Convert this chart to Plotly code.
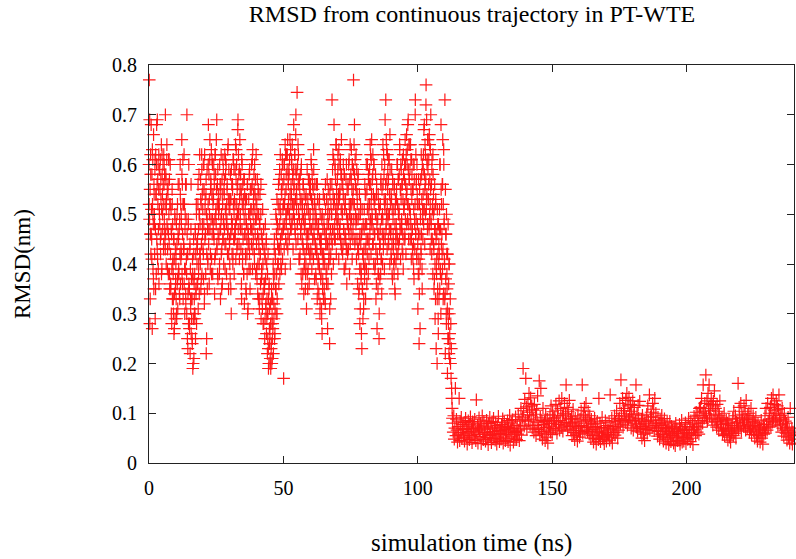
import numpy as np
import plotly.graph_objects as go

# ---------------------------------------------------------------
# RMSD, in picometres (1 pm = 0.001 nm).
# Phase 1 : frames from t = 0 ns every 0.1 ns (one row = 1 ns).
# Phase 1b: extra frames from t = 0.05 ns every 0.2 ns (row = 2 ns).
# Phase 2 : frames from t = 113 ns every 0.2 ns (one row = 2 ns).
# ---------------------------------------------------------------
PHASE1_START_NS = 0.0
PHASE1_STEP_NS = 0.1
PHASE1B_START_NS = 0.05
PHASE1B_STEP_NS = 0.2
PHASE2_START_NS = 113.0
PHASE2_STEP_NS = 0.2

rmsd_pm_phase1 = [
    600, 770, 490, 280, 550, 460, 620, 420, 680, 510,
    450, 580, 270, 520, 610, 390, 480, 660, 350, 540,
    500, 420, 590, 290, 470, 620, 540, 380, 600, 450,
    560, 690, 410, 520, 600, 470, 550, 360, 590, 500,
    480, 550, 610, 420, 570, 460, 640, 510, 390, 580,
    540, 470, 600, 520, 430, 620, 560, 490, 580, 450,
    520, 700, 460, 570, 400, 530, 610, 480, 550, 430,
    470, 560, 380, 610, 500, 440, 570, 350, 520, 600,
    420, 350, 510, 300, 460, 390, 550, 330, 480, 410,
    380, 300, 450, 260, 410, 340, 500, 290, 430, 370,
    400, 330, 480, 290, 440, 360, 520, 310, 460, 380,
    450, 380, 560, 340, 490, 420, 600, 360, 520, 430,
    500, 420, 650, 380, 560, 460, 610, 330, 520, 440,
    430, 360, 520, 300, 470, 390, 560, 320, 490, 410,
    380, 700, 460, 250, 420, 340, 490, 280, 600, 350,
    350, 280, 430, 220, 390, 310, 470, 260, 370, 330,
    330, 240, 410, 190, 370, 290, 450, 210, 360, 300,
    380, 300, 470, 250, 420, 340, 520, 280, 440, 360,
    430, 360, 520, 310, 470, 400, 580, 340, 500, 420,
    480, 400, 570, 350, 520, 440, 620, 380, 540, 460,
    510, 430, 600, 370, 480, 550, 320, 620, 450, 530,
    460, 380, 540, 220, 500, 420, 590, 350, 470, 400,
    520, 680, 440, 580, 360, 500, 610, 470, 390, 550,
    570, 490, 630, 410, 540, 460, 600, 380, 520, 480,
    530, 600, 450, 560, 340, 490, 620, 420, 580, 510,
    480, 550, 690, 430, 520, 380, 590, 460, 540, 500,
    450, 520, 380, 600, 470, 540, 330, 560, 490, 420,
    500, 430, 570, 360, 520, 610, 450, 490, 400, 550,
    540, 470, 620, 390, 510, 580, 440, 600, 480, 520,
    490, 560, 420, 630, 470, 530, 350, 590, 510, 450,
    440, 510, 370, 580, 460, 530, 300, 490, 560, 420,
    480, 550, 400, 610, 520, 450, 590, 380, 530, 470,
    520, 460, 640, 410, 570, 490, 600, 430, 550, 500,
    560, 690, 470, 620, 510, 440, 590, 530, 650, 480,
    500, 580, 430, 540, 360, 610, 470, 520, 400, 560,
    450, 530, 380, 570, 490, 320, 540, 460, 510, 420,
    410, 490, 340, 530, 450, 380, 560, 300, 470, 440,
    460, 530, 390, 580, 420, 500, 350, 550, 480, 510,
    510, 440, 600, 470, 560, 390, 630, 500, 450, 540,
    480, 550, 420, 600, 510, 460, 570, 380, 530, 490,
    440, 520, 370, 570, 460, 400, 540, 330, 500, 430,
    400, 480, 330, 540, 420, 360, 500, 290, 460, 390,
    380, 450, 310, 510, 400, 340, 470, 280, 430, 360,
    350, 420, 290, 480, 370, 310, 440, 260, 400, 330,
    300, 380, 250, 420, 230, 330, 200, 360, 270, 310,
    260, 210, 320, 190, 280, 240, 350, 200, 300, 250,
    330, 270, 400, 220, 360, 290, 430, 250, 380, 310,
    420, 350, 500, 300, 460, 380, 530, 330, 480, 400,
    470, 400, 560, 360, 510, 430, 590, 380, 520, 450,
    500, 430, 580, 390, 540, 460, 610, 410, 560, 480,
    520, 170, 570, 430, 600, 480, 540, 390, 620, 500,
    550, 480, 620, 440, 590, 510, 650, 460, 570, 530,
    510, 580, 450, 610, 490, 540, 400, 630, 520, 470,
    540, 600, 480, 640, 520, 570, 430, 590, 500, 550,
    560, 490, 620, 470, 590, 530, 660, 440, 580, 510,
    530, 745, 480, 600, 450, 560, 620, 500, 410, 570,
    490, 550, 420, 580, 460, 520, 380, 600, 480, 530,
    450, 520, 380, 560, 430, 490, 340, 540, 470, 400,
    420, 490, 350, 530, 400, 460, 310, 510, 440, 380,
    460, 530, 390, 570, 430, 500, 360, 550, 480, 410,
    500, 560, 430, 610, 470, 530, 390, 580, 520, 450,
    480, 550, 410, 590, 460, 520, 370, 560, 500, 430,
    440, 510, 370, 560, 420, 480, 330, 530, 460, 400,
    410, 480, 340, 520, 390, 450, 300, 500, 430, 370,
    380, 450, 310, 490, 260, 420, 350, 470, 400, 330,
    420, 490, 350, 530, 400, 460, 320, 510, 440, 380,
    460, 530, 390, 570, 440, 500, 360, 550, 480, 410,
    430, 500, 240, 540, 410, 470, 330, 520, 450, 380,
    500, 730, 440, 590, 470, 540, 400, 610, 520, 460,
    530, 480, 600, 450, 570, 510, 640, 420, 550, 490,
    510, 570, 460, 620, 490, 540, 410, 600, 530, 470,
    540, 480, 610, 450, 580, 510, 650, 430, 560, 500,
    500, 560, 440, 600, 470, 530, 390, 580, 510, 450,
    460, 530, 400, 570, 430, 500, 360, 550, 480, 420,
    490, 550, 430, 600, 460, 520, 380, 570, 500, 440,
    520, 580, 460, 630, 490, 550, 410, 600, 530, 470,
    550, 770, 490, 640, 520, 580, 440, 610, 560, 500,
    480, 550, 410, 590, 450, 520, 360, 570, 490, 430,
    420, 500, 350, 540, 390, 460, 310, 520, 440, 370,
    380, 460, 230, 510, 350, 420, 290, 480, 400, 330,
    430, 510, 370, 560, 400, 480, 330, 540, 450, 390,
    480, 550, 420, 600, 450, 520, 380, 580, 500, 440,
    520, 590, 460, 640, 490, 560, 420, 610, 540, 480,
    500, 570, 440, 620, 470, 540, 400, 600, 520, 460,
    460, 530, 400, 580, 430, 500, 360, 560, 480, 420,
    410, 490, 350, 540, 380, 460, 250, 510, 430, 370,
    440, 520, 380, 570, 410, 490, 340, 550, 460, 400,
    490, 560, 430, 620, 460, 530, 390, 600, 510, 450,
    530, 730, 470, 650, 500, 570, 430, 620, 550, 490,
    500, 570, 440, 610, 470, 540, 400, 590, 520, 460,
    470, 540, 410, 590, 440, 510, 370, 560, 490, 430,
    440, 510, 380, 560, 410, 480, 340, 530, 460, 400,
    480, 550, 420, 600, 450, 520, 380, 570, 500, 440,
    510, 580, 450, 630, 480, 550, 410, 600, 530, 470,
    490, 560, 430, 610, 460, 530, 390, 580, 510, 450,
    520, 600, 460, 650, 490, 560, 420, 620, 540, 480,
    550, 630, 490, 680, 520, 590, 450, 640, 570, 510,
    510, 590, 450, 640, 480, 550, 410, 610, 530, 470,
    470, 550, 410, 600, 440, 510, 370, 570, 490, 430,
    520, 730, 460, 620, 490, 570, 420, 600, 540, 480,
    440, 520, 380, 570, 410, 240, 340, 550, 460, 400,
    490, 570, 430, 620, 460, 530, 390, 600, 510, 450,
    540, 620, 480, 670, 510, 580, 440, 640, 560, 500,
    570, 760, 510, 690, 540, 610, 470, 650, 590, 530,
    530, 610, 470, 660, 500, 570, 430, 630, 550, 490,
    480, 560, 420, 610, 450, 520, 380, 580, 500, 440,
    430, 510, 370, 560, 400, 470, 330, 530, 450, 390,
    380, 460, 200, 510, 350, 420, 290, 480, 400, 330,
    420, 510, 350, 600, 390, 470, 300, 550, 440, 370,
    460, 560, 390, 650, 430, 520, 340, 600, 480, 410,
    400, 730, 340, 550, 370, 460, 300, 500, 420, 350,
    310, 420, 250, 480, 280, 360, 220, 400, 300, 260,
    240, 330, 200, 280, 170, 230, 150, 130, 110, 90,
]

rmsd_pm_phase1b = [
    520, 690, 330, 580, 460, 410, 630, 500, 370, 560,
    480, 610, 350, 540, 680, 430, 570, 390, 620, 510,
    590, 450, 530, 380, 620, 500, 560, 440, 600, 470,
    430, 580, 510, 640, 390, 540, 460, 610, 380, 520,
    360, 470, 280, 520, 400, 330, 450, 270, 490, 350,
    420, 300, 500, 370, 560, 390, 470, 330, 540, 410,
    480, 580, 360, 520, 430, 620, 390, 500, 340, 560,
    300, 420, 230, 480, 360, 270, 440, 330, 560, 290,
    250, 380, 200, 420, 330, 290, 460, 350, 500, 400,
    450, 560, 380, 500, 620, 420, 530, 370, 590, 480,
    550, 420, 600, 340, 510, 460, 570, 250, 490, 410,
    600, 470, 530, 650, 420, 560, 380, 610, 490, 540,
    460, 580, 410, 620, 500, 650, 440, 560, 370, 520,
    510, 400, 560, 470, 620, 350, 540, 450, 590, 480,
    570, 440, 610, 500, 380, 550, 460, 640, 420, 530,
    400, 530, 350, 590, 470, 560, 420, 610, 500, 450,
    590, 480, 630, 520, 440, 670, 500, 580, 410, 550,
    470, 550, 330, 600, 420, 510, 380, 570, 460, 530,
    350, 480, 420, 560, 310, 500, 440, 590, 390, 470,
    550, 470, 610, 430, 520, 580, 400, 540, 490, 620,
    390, 500, 340, 550, 450, 310, 480, 420, 560, 370,
    330, 440, 280, 470, 360, 250, 410, 320, 450, 290,
    220, 300, 190, 350, 240, 200, 280, 230, 330, 210,
    280, 380, 320, 450, 260, 410, 350, 490, 300, 440,
    520, 430, 570, 480, 620, 400, 550, 460, 600, 510,
    470, 600, 520, 640, 450, 580, 500, 620, 430, 560,
    590, 500, 650, 470, 560, 610, 490, 580, 520, 680,
    520, 620, 460, 700, 550, 590, 480, 640, 510, 570,
    410, 530, 470, 590, 360, 500, 440, 560, 390, 510,
    480, 380, 540, 430, 590, 350, 510, 460, 570, 420,
    540, 470, 600, 420, 560, 500, 630, 450, 530, 480,
    380, 490, 430, 560, 350, 470, 400, 530, 320, 450,
    430, 290, 500, 370, 540, 410, 470, 330, 560, 440,
    360, 480, 270, 520, 400, 450, 310, 560, 420, 500,
    560, 470, 620, 520, 680, 450, 590, 500, 640, 530,
    480, 590, 520, 630, 460, 550, 600, 440, 580, 510,
    420, 540, 470, 580, 390, 520, 450, 600, 430, 490,
    560, 470, 610, 500, 640, 480, 570, 520, 600, 450,
    590, 520, 680, 450, 560, 620, 490, 540, 430, 580,
    340, 450, 280, 500, 390, 260, 470, 350, 420, 310,
    470, 390, 540, 430, 600, 360, 510, 450, 570, 410,
    560, 480, 620, 520, 650, 490, 580, 440, 600, 530,
    390, 500, 330, 540, 270, 460, 380, 520, 300, 440,
    470, 560, 410, 600, 500, 640, 450, 580, 520, 690,
    560, 480, 630, 520, 590, 450, 610, 500, 660, 470,
    420, 530, 380, 570, 460, 400, 550, 350, 510, 440,
    530, 460, 600, 420, 570, 500, 640, 470, 550, 590,
    480, 560, 420, 620, 510, 570, 450, 600, 530, 660,
    600, 520, 690, 480, 570, 640, 500, 610, 450, 580,
    430, 550, 390, 600, 480, 700, 460, 560, 410, 520,
    310, 460, 380, 520, 270, 500, 420, 580, 350, 490,
    590, 510, 680, 550, 620, 720, 530, 600, 480, 650,
    560, 480, 640, 520, 700, 450, 590, 510, 620, 540,
    350, 470, 290, 520, 230, 410, 330, 480, 260, 440,
    470, 600, 380, 680, 520, 420, 560, 330, 630, 490,
    330, 220, 460, 280, 380, 180, 300, 250, 400, 210,
]

rmsd_pm_phase2 = [
    80, 62, 95, 48, 70, 150, 55, 88, 66, 42,
    73, 58, 130, 45, 84, 61, 92, 50, 69, 77,
    56, 81, 44, 67, 90, 52, 74, 38, 63, 85,
    60, 47, 78, 93, 55, 69, 41, 83, 64, 72,
    50, 88, 62, 45, 127, 57, 76, 40, 68, 91,
    66, 53, 80, 39, 72, 95, 58, 47, 84, 61,
    74, 44, 62, 86, 51, 70, 37, 79, 58, 92,
    55, 68, 41, 83, 63, 49, 90, 57, 72, 46,
    81, 60, 38, 75, 52, 94, 65, 43, 70, 59,
    48, 77, 64, 89, 40, 57, 82, 67, 45, 73,
    62, 50, 85, 43, 71, 58, 96, 36, 66, 80,
    54, 87, 69, 42, 76, 61, 50, 93, 63, 47,
    75, 58, 98, 66, 45, 84, 70, 110, 56, 88,
    92, 190, 105, 74, 128, 86, 170, 113, 68, 97,
    120, 84, 140, 102, 76, 131, 95, 115, 70, 108,
    88, 62, 118, 75, 98, 55, 106, 82, 135, 67,
    70, 165, 58, 92, 150, 63, 85, 48, 110, 77,
    60, 83, 45, 96, 71, 52, 88, 40, 66, 79,
    74, 98, 62, 115, 80, 57, 103, 69, 90, 85,
    92, 70, 118, 84, 60, 106, 95, 77, 125, 66,
    85, 110, 72, 130, 95, 64, 100, 81, 120, 76,
    98, 157, 80, 112, 68, 104, 90, 126, 73, 88,
    66, 94, 55, 82, 108, 61, 76, 47, 90, 70,
    58, 80, 44, 95, 65, 73, 52, 88, 62, 105,
    75, 157, 60, 98, 84, 112, 66, 92, 120, 71,
    86, 63, 104, 72, 58, 95, 80, 50, 88, 67,
    55, 78, 42, 68, 90, 49, 73, 38, 62, 84,
    64, 47, 130, 56, 80, 43, 71, 60, 92, 52,
    48, 70, 39, 62, 85, 54, 44, 75, 58, 66,
    57, 82, 46, 137, 68, 52, 90, 40, 73, 61,
    70, 95, 56, 84, 62, 105, 74, 50, 88, 66,
    90, 120, 78, 167, 100, 85, 130, 72, 110, 95,
    105, 82, 126, 94, 140, 76, 115, 88, 132, 98,
    92, 118, 70, 104, 85, 125, 66, 97, 112, 80,
    84, 157, 72, 100, 64, 116, 90, 78, 124, 69,
    62, 88, 50, 96, 73, 58, 84, 45, 80, 67,
    76, 98, 60, 115, 84, 70, 137, 66, 92, 102,
    94, 72, 120, 86, 108, 65, 130, 80, 100, 75,
    70, 54, 92, 63, 80, 48, 86, 58, 75, 96,
    57, 78, 44, 66, 89, 52, 71, 40, 63, 82,
    48, 69, 37, 60, 84, 52, 43, 74, 58, 66,
    55, 40, 72, 63, 35, 80, 50, 68, 45, 59,
    62, 46, 78, 38, 70, 54, 86, 42, 65, 51,
    44, 67, 52, 81, 39, 60, 73, 48, 58, 90,
    56, 72, 43, 85, 61, 50, 78, 37, 66, 94,
    68, 90, 55, 102, 74, 62, 96, 80, 58, 110,
    85, 112, 72, 130, 96, 80, 157, 104, 90, 120,
    100, 177, 92, 125, 84, 140, 110, 157, 95, 118,
    106, 130, 88, 115, 76, 124, 98, 145, 82, 110,
    90, 72, 118, 84, 104, 66, 96, 125, 78, 88,
    70, 92, 58, 84, 64, 100, 55, 78, 68, 86,
    58, 80, 46, 70, 88, 52, 64, 42, 75, 60,
    66, 90, 55, 104, 72, 60, 95, 50, 82, 70,
    80, 160, 68, 112, 90, 76, 120, 64, 98, 86,
    92, 74, 115, 82, 104, 66, 126, 88, 70, 96,
    78, 100, 62, 88, 70, 110, 57, 84, 74, 95,
    64, 82, 50, 75, 92, 56, 68, 44, 80, 60,
    55, 72, 42, 66, 86, 50, 62, 38, 77, 58,
    70, 95, 60, 110, 78, 66, 120, 84, 72, 100,
    88, 112, 74, 130, 96, 82, 137, 90, 106, 118,
    100, 84, 125, 92, 115, 76, 108, 137, 86, 96,
    78, 96, 62, 110, 70, 88, 54, 100, 66, 84,
    60, 80, 46, 72, 92, 52, 66, 40, 110, 58,
    48, 70, 38, 62, 55,
]

x_tick_values = [0, 50, 100, 150, 200]
y_tick_values = [0, 0.1, 0.2, 0.3, 0.4, 0.5, 0.6, 0.7, 0.8]
y_tick_labels = ["0", "0.1", "0.2", "0.3", "0.4", "0.5", "0.6", "0.7", "0.8"]

title_text = "RMSD from continuous trajectory in PT-WTE"
x_title = "simulation time (ns)"
y_title = "RMSD(nm)"

# ---------------------------------------------------------------
time_ns = np.concatenate([
    PHASE1_START_NS + PHASE1_STEP_NS * np.arange(len(rmsd_pm_phase1)),
    PHASE1B_START_NS + PHASE1B_STEP_NS * np.arange(len(rmsd_pm_phase1b)),
    PHASE2_START_NS + PHASE2_STEP_NS * np.arange(len(rmsd_pm_phase2)),
])
rmsd_nm = np.array(rmsd_pm_phase1 + rmsd_pm_phase1b + rmsd_pm_phase2,
                   dtype=float) / 1000.0

FONT = "Liberation Serif"
RED = "rgb(255,0,0)"

fig = go.Figure()
fig.add_trace(go.Scatter(
    x=time_ns, y=rmsd_nm, mode="markers",
    marker=dict(symbol="cross-thin", size=9, color=RED,
                line=dict(color=RED, width=1.2)),
    opacity=0.9, cliponaxis=False, showlegend=False, hoverinfo="skip",
))

axis_common = dict(
    showline=True, linecolor="#222", linewidth=1, mirror="ticks",
    ticks="inside", ticklen=7, tickwidth=1, tickcolor="#222",
    showgrid=False, zeroline=False,
    tickfont=dict(family=FONT, size=20, color="black"),
)

fig.update_layout(
    width=796, height=559,
    margin=dict(l=149, r=2, t=65, b=96),
    paper_bgcolor="white", plot_bgcolor="white",
    title=dict(text=title_text, x=0.593, xanchor="center",
               y=1 - 14 / 559, yanchor="middle",
               font=dict(family=FONT, size=24, color="black")),
    xaxis=dict(range=[0, 240], tickvals=x_tick_values,
               ticklabelstandoff=7, **axis_common),
    yaxis=dict(range=[0, 0.8], tickvals=y_tick_values, ticktext=y_tick_labels,
               ticklabelstandoff=7, **axis_common),
    annotations=[
        dict(text=x_title, xref="paper", yref="paper", x=0.5, y=0,
             xanchor="center", yanchor="middle", yshift=-80, showarrow=False,
             font=dict(family=FONT, size=25, color="black")),
        dict(text=y_title, xref="paper", yref="paper", x=0, y=0.5,
             xanchor="center", yanchor="middle", xshift=-127, textangle=-90,
             showarrow=False, font=dict(family=FONT, size=23, color="black")),
    ],
)

fig.write_html(
    "out.html",
    config={"displayModeBar": False, "staticPlot": True},
    post_script="document.body.style.margin='0';document.body.style.overflow='hidden';",
)
